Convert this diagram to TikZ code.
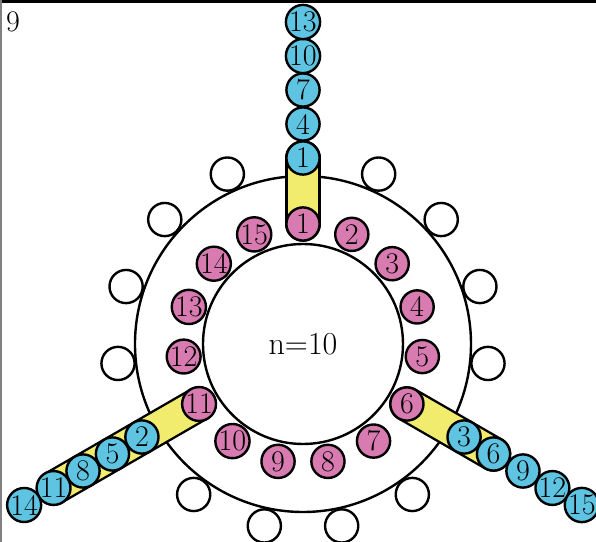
\documentclass[tikz,border=0pt]{standalone}
\usepackage{tikz}
\usetikzlibrary{backgrounds}
\definecolor{pinkcolor}{HTML}{D87BB0}
\definecolor{bluecolor}{HTML}{5EC4E2}
\definecolor{barcolor}{HTML}{F2EC6E}
\tikzset{
  ring line/.style={black,line width=1.2pt},
  ring pink/.style={circle,draw,line width=1.2pt,fill=pinkcolor,minimum size=16.6pt,inner sep=0pt},
  ring blue/.style={circle,draw,line width=1.2pt,fill=bluecolor,minimum size=16.6pt,inner sep=0pt},
  ring empty/.style={circle,draw,line width=1.2pt,fill=white,minimum size=16.6pt,inner sep=0pt},
  ring bar edge/.style={black,line width=17.8pt,line cap=round},
  ring bar fill/.style={barcolor,line width=15.4pt,line cap=round}
}
\begin{document}
\begin{tikzpicture}[x=0.5pt,y=0.5pt,font=\fontsize{15}{17}\selectfont]
  \useasboundingbox (-303,-198) rectangle (293,344);
  \draw[black,line width=1.5pt] (-303,342.5) -- (293,342.5);
  \draw[gray,line width=1pt] (-302,-198) -- (-302,344);
  \node (page) at (-290,322) {9};
  \node[font=\fontsize{16}{18}\selectfont] (size) at (0,0) {n=10};
  % inner ring
  \foreach \k in {1,...,15}{\node[ring pink] (p\k) at ({90-24*(\k-1)}:120) {\k};}
  % outer free places
  \foreach \k in {2,3,4,5,7,8,9,10,12,13,14,15}{\node[ring empty] (e\k) at ({90-24*(\k-1)}:186) {};}
  % chains
  \foreach \a/\s in {90/1,-30/3,-150/2}{
    \foreach \j in {0,...,4}{
      \pgfmathtruncatemacro\lab{\s+3*\j}
      \node[ring blue] (b\lab) at (\a:{186+34*\j}) {\lab};
    }
  }
  \begin{pgfonlayer}{background}
    \draw[ring line] (size) circle (168);
    \draw[ring line] (size) circle (100);
    \foreach \k in {1,6,11}{
      \draw[ring bar edge] (p\k.center) -- (b\k.center);
      \draw[ring bar fill] (p\k.center) -- (b\k.center);
    }
  \end{pgfonlayer}
\end{tikzpicture}
\end{document}
